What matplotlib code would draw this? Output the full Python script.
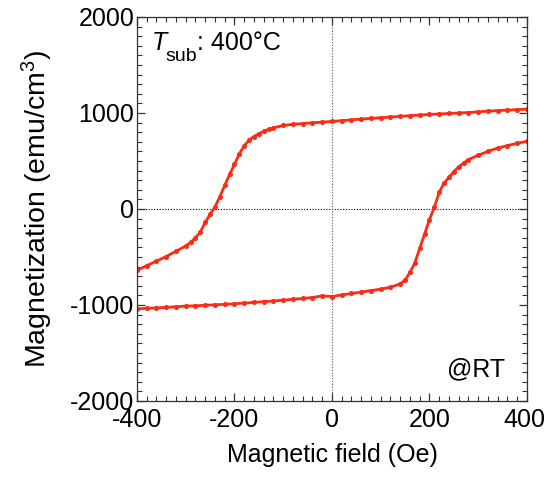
import matplotlib
matplotlib.use("Agg")
import matplotlib.pyplot as plt
from matplotlib.ticker import MultipleLocator
from matplotlib.transforms import ScaledTranslation

plt.rcParams['font.family'] = ['Liberation Sans', 'DejaVu Sans']
plt.rcParams['mathtext.fontset'] = 'custom'
plt.rcParams['mathtext.rm'] = 'Liberation Sans'
plt.rcParams['mathtext.it'] = 'Liberation Sans:italic'
plt.rcParams['axes.unicode_minus'] = False

# Descending branch (field swept from +400 to -400 Oe)
h_down = [400, 380, 360, 340, 320, 300, 280, 260, 240, 220, 200, 180, 160, 140,
          120, 100, 80, 60, 40, 20, 0, -20, -40, -60, -80, -100, -120, -130,
          -140, -150, -160, -170, -180, -190, -200, -210, -220, -230, -240,
          -250, -260, -270, -280, -290, -300, -320, -340, -360, -380, -400]
m_down = [1040, 1035, 1030, 1025, 1020, 1012, 1005, 1000, 995, 990, 985, 978,
          972, 965, 958, 950, 944, 937, 928, 920, 912, 905, 898, 890, 882, 870,
          845, 830, 808, 785, 755, 718, 660, 575, 465, 360, 245, 130, 20, -55,
          -140, -240, -300, -348, -385, -440, -495, -543, -590, -640]

# Ascending branch (field swept from -400 to +400 Oe)
h_up = [-400, -380, -360, -340, -320, -300, -280, -260, -240, -220, -200, -180,
        -160, -140, -120, -100, -80, -60, -40, -20, 0, 20, 40, 60, 80, 100, 120,
        140, 150, 160, 170, 180, 190, 200, 210, 220, 230, 240, 250, 260, 270,
        280, 300, 320, 340, 360, 380, 400]
m_up = [-1040, -1035, -1030, -1025, -1018, -1012, -1008, -1003, -998, -993,
        -987, -980, -973, -965, -958, -950, -940, -932, -922, -905, -912, -895,
        -880, -866, -850, -835, -815, -780, -740, -660, -560, -410, -260, -110,
        20, 175, 270, 330, 390, 440, 478, 515, 560, 600, 635, 660, 685, 705]

xticks = [-400, -200, 0, 200, 400]
yticks = [-2000, -1000, 0, 1000, 2000]

W, H = 546, 480
fig = plt.figure(figsize=(W / 100, H / 100), dpi=100)
ax = fig.add_axes([0.2509, 0.1646, 0.7143, 0.8000])

red = '#ff2a14'
ax.plot(h_down, m_down, '-o', color=red, lw=2.0, ms=2.6, mec=red, mfc=red)
ax.plot(h_up, m_up, '-o', color=red, lw=2.0, ms=2.6, mec=red, mfc=red)

ax.axhline(0, color='black', lw=0.8, ls=(0, (1, 1.5)), zorder=0)
ax.axvline(0, color='#555555', lw=0.8, ls=(0, (1, 1.5)), zorder=0)

ax.set_xlim(-400, 400)
ax.set_ylim(-2000, 2000)
ax.set_xticks(xticks)
ax.set_yticks(yticks)
ax.xaxis.set_minor_locator(MultipleLocator(20))
ax.yaxis.set_minor_locator(MultipleLocator(100))
ax.tick_params(which='both', direction='in', top=True, right=True,
               labelsize=18, color='#333333')
ax.tick_params(which='major', length=6, width=0.9)
ax.tick_params(which='minor', length=3.5, width=0.8)
ax.tick_params(axis='x', which='major', pad=5)
ax.tick_params(axis='y', which='major', pad=2)
for s in ax.spines.values():
    s.set_linewidth(0.9)
    s.set_color('#333333')

# keep the rightmost x tick label inside the canvas
fig.canvas.draw()
last = ax.get_xticklabels()[-1]
last.set_transform(last.get_transform() + ScaledTranslation(-3 / 100, 0, fig.dpi_scale_trans))

ax.set_xlabel('Magnetic field (Oe)', fontsize=18, labelpad=8)
ax.set_ylabel('Magnetization (emu/cm$^{3}$)', fontsize=20.5, labelpad=11)

def px(x, y):
    return x / W, 1 - y / H

fig.text(*px(152, 50), 'T', fontsize=18, style='italic', va='baseline', ha='left')
fig.text(*px(165, 61), 'sub', fontsize=14, va='baseline', ha='left')
fig.text(*px(197, 50), ': 400°C', fontsize=18, va='baseline', ha='left')

ax.text(0.945, 0.05, '@RT', transform=ax.transAxes, fontsize=18,
        va='bottom', ha='right')

fig.savefig('out.png', dpi=100)
